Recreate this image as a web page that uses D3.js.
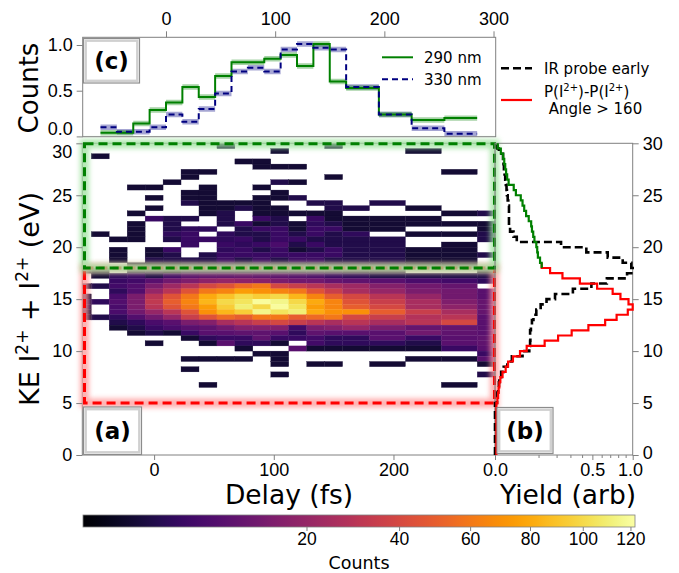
<!DOCTYPE html>
<html>
<head>
<meta charset="utf-8">
<script src="https://d3js.org/d3.v7.min.js"></script>
<style>
  body { margin: 0; background: #fff; }
  svg { display: block; font-family: "DejaVu Sans", sans-serif; }
  .axis path, .axis line { stroke: #808080; }
  .axis text { fill: #000; }
</style>
</head>
<body>
<svg id="fig" width="679" height="573"></svg>
<script>
// ---- data ----
// delay bin centres (fs) of the 2D histogram
const delays = [-60, -45, -30, -15, 0, 15, 30, 45, 60, 75, 90, 105, 120, 135, 150, 165, 195, 225, 255, 285];

// counts per 0.5 eV row, first row is 29.5-30 eV, going down to 5-5.5 eV
const counts = [
  [0,0,0,0,0,0,0,0,1,0,0,0,0,0,1,0,0,0,0,0],
  [0,0,0,0,0,0,0,0,0,0,0,1,0,0,0,0,0,1,0,0],
  [0,1,0,0,0,0,0,0,0,0,0,0,0,0,0,0,0,0,0,0],
  [0,0,0,0,0,0,0,0,0,1,1,0,0,0,0,0,0,0,0,0],
  [0,0,0,0,0,0,0,0,0,0,1,1,1,0,0,0,0,0,0,0],
  [0,0,0,0,0,0,1,1,0,0,0,0,0,0,0,0,0,0,1,0],
  [0,0,0,0,0,0,1,0,0,0,0,0,0,0,1,0,0,0,0,0],
  [0,0,0,0,0,1,0,0,0,0,0,2,1,0,0,0,0,0,0,0],
  [0,0,0,1,1,0,0,1,0,0,1,0,0,0,0,0,0,0,0,0],
  [0,0,0,0,0,0,1,1,0,0,0,1,0,0,0,0,0,0,0,0],
  [0,0,0,0,1,0,1,1,0,0,1,1,2,0,0,0,0,0,0,0],
  [0,0,0,0,0,0,2,1,1,1,1,0,0,2,2,0,2,0,0,0],
  [0,0,0,0,1,0,0,1,1,2,1,1,0,0,2,2,0,1,0,0],
  [0,0,0,1,0,0,0,1,2,0,1,1,1,1,1,0,0,0,1,2],
  [0,0,0,0,4,2,2,0,2,0,4,2,0,4,1,1,1,1,0,0],
  [0,0,0,1,0,2,0,0,2,4,1,2,1,3,2,1,1,1,1,1],
  [0,0,0,1,0,2,3,3,0,2,4,4,1,4,4,1,1,0,0,1],
  [0,1,0,1,0,3,4,0,3,2,2,4,2,4,2,3,0,1,1,2],
  [0,0,1,1,0,2,4,4,3,4,2,4,4,2,2,2,2,0,0,2],
  [0,0,0,0,0,0,4,0,4,3,4,6,2,4,2,2,2,0,1,0],
  [0,0,1,0,1,4,0,0,3,4,2,4,1,2,4,2,2,1,1,0],
  [0,0,1,0,1,2,0,2,4,4,4,4,4,4,4,2,2,1,1,2],
  [0,0,1,0,2,2,2,2,4,2,4,2,4,4,2,2,2,1,1,0],
  [0,0,0,1,1,1,2,2,3,2,3,2,2,2,2,2,2,1,1,0],
  [1,1,0,2,3,1,4,4,4,3,4,3,3,4,3,2,2,0,0,1],
  [0,1,3,4,2,5,8,9,9,10,9,8,7,6,4,3,2,2,2,2],
  [0,0,4,5,8,12,15,18,20,18,17,14,12,12,10,9,8,6,5,3],
  [1,2,5,7,14,22,30,40,45,55,60,40,35,30,25,22,16,12,10,0],
  [0,0,3,7,20,30,45,60,65,75,70,65,60,45,35,25,20,14,12,8],
  [1,0,6,14,30,45,60,80,90,100,95,100,85,65,50,40,30,20,12,8],
  [2,3,7,14,32,50,65,85,100,105,120,115,100,80,65,45,35,25,15,10],
  [2,0,6,14,30,45,60,75,95,110,100,120,105,75,65,50,40,25,18,10],
  [1,0,6,12,20,30,45,70,85,95,115,105,110,80,70,70,50,35,25,10],
  [1,2,3,7,12,20,35,45,55,50,60,60,50,55,60,40,35,28,30,8],
  [0,0,2,3,6,8,14,16,25,30,35,40,35,30,25,30,25,30,40,8],
  [0,0,1,2,4,6,8,9,12,16,16,16,5,14,16,20,14,10,10,8],
  [0,0,0,1,2,1,4,8,8,9,9,8,3,9,8,8,8,12,9,8],
  [0,0,0,0,0,0,1,3,4,4,9,4,4,5,3,3,8,4,8,9],
  [0,0,0,0,1,0,0,1,8,3,3,1,0,5,3,3,3,2,8,9],
  [0,0,0,0,0,0,0,0,0,1,0,0,8,1,1,1,1,1,4,8],
  [0,0,0,0,0,0,0,0,0,0,1,1,0,0,0,0,0,0,0,4],
  [0,0,0,0,0,0,1,1,1,1,0,1,0,0,0,0,0,1,1,8],
  [0,0,0,0,0,0,0,0,0,0,0,1,0,1,1,0,1,0,0,1],
  [0,0,0,0,0,0,1,0,0,0,0,0,0,0,0,0,0,0,0,0],
  [0,0,0,0,0,0,0,0,0,0,0,1,0,0,0,0,0,0,0,2],
  [0,0,0,0,0,0,0,0,0,0,0,0,0,0,0,0,0,0,0,0],
  [0,0,0,0,0,0,0,1,0,0,0,0,0,0,0,0,0,0,1,0]
];

// panel (c): normalised counts vs delay
const counts290 = [0.04, 0.04, 0.14, 0.29, 0.37, 0.54, 0.43, 0.66, 0.81, 0.81, 0.85, 0.89, 0.77, 1.01, 0.60, 0.53, 0.24, 0.18, 0.20, 0.20];
const counts330 = [0.10, 0.05, 0.05, 0.10, 0.24, 0.16, 0.30, 0.47, 0.71, 0.75, 0.71, 0.95, 1.01, 0.97, 0.95, 0.54, 0.24, 0.09, 0.03, 0.03];
const bandHalf = 0.03;

// panel (b): yield per 0.5 eV bin, from 0-0.5 eV up to 29.5-30 eV
const irEarly = [
  0,0,0,0,0,0,0,0,0,0,
  0.0002,0.0003,0.0005,0.0008,0.001,0.002,0.004,0.008,0.015,0.04,
  0.062,0.065,0.066,0.065,0.068,0.072,0.078,0.09,0.11,0.14,
  0.19,0.32,0.49,0.66,0.92,1.0,0.98,0.86,0.67,0.44,
  0.23,0.025,0.018,0.012,0.0103,0.0103,0.0103,0.0103,0.0093,0.0085,
  0.0075,0.007,0.0062,0.0055,0.0048,0.0042,0.0038,0.0034,0.0008,0.0003
];
const angleDiff = [
  0.0001,0.0001,0.0001,0.0001,0.0001,0.0001,0.0001,0.0001,0.0001,0.0001,
  0.0003,0.0005,0.0007,0.001,0.0015,0.003,0.006,0.009,0.017,0.033,
  0.053,0.13,0.21,0.31,0.46,0.64,0.78,0.93,1.0,0.94,
  0.83,0.73,0.55,0.38,0.24,0.16,0.115,0.107,0.097,0.094,
  0.09,0.082,0.077,0.072,0.069,0.06,0.051,0.045,0.04,0.035,
  0.023,0.0185,0.0098,0.0078,0.0065,0.0055,0.0045,0.0035,0.0018,0.0004
];

const delayTicks = [0, 100, 200];
const topDelayTicks = [0, 100, 200, 300];
const keTicks = [0, 5, 10, 15, 20, 25, 30];
const countTicks = [0, 0.5, 1.0];
const yieldTicks = [0, 0.5, 1.0];
const yieldMinor = [0.1, 0.2, 0.3, 0.4, 0.6, 0.7, 0.8, 0.9];
const cbarTicks = [20, 40, 60, 80, 100, 120];

// ---- layout ----
const svg = d3.select("#fig");
const defs = svg.append("defs");

const xMain = d3.scaleLinear().domain([-60, 285]).range([82.3, 495.2]);
const yKE = d3.scaleLinear().domain([0, 30]).range([455, 143.3]);
const xTop = d3.scaleLinear().domain([-76.3, 302]).range([82.7, 495.7]);
const yTop = d3.scaleLinear().domain([0, 1]).range([136.4, 45]);
const xYield = d3.scaleSqrt().domain([0, 1]).range([495, 632.7]);
const cNorm = d3.scaleSqrt().domain([0, 122]).range([0, 1]);
const xCbar = d3.scaleSqrt().domain([0, 122]).range([83, 635]);

defs.append("clipPath").attr("id", "clipMain")
  .append("rect").attr("x", 82.3).attr("y", 143.3).attr("width", 495.2 - 82.3).attr("height", 455 - 143.3);
defs.append("clipPath").attr("id", "clipTop")
  .append("rect").attr("x", 82.7).attr("y", 37.3).attr("width", 495.7 - 82.7).attr("height", 136.7 - 37.3);

const glow = defs.append("filter").attr("id", "glow")
  .attr("x", "-10%").attr("y", "-10%").attr("width", "120%").attr("height", "120%");
glow.append("feGaussianBlur").attr("stdDeviation", 2.5);

// ---- panel (a): heatmap ----
const edges = delays.map((d, i) => i === 0 ? d - (delays[1] - delays[0]) / 2 : (delays[i - 1] + d) / 2);
edges.push(delays[delays.length - 1] + (delays[delays.length - 1] - delays[delays.length - 2]) / 2);

const cells = [];
counts.forEach((row, r) => {
  row.forEach((v, c) => {
    if (v > 0) cells.push({ r, c, v });
  });
});

const gMain = svg.append("g").attr("clip-path", "url(#clipMain)");
gMain.selectAll("rect.cell")
  .data(cells)
  .join("rect")
  .attr("class", "cell")
  .attr("x", d => xMain(edges[d.c]))
  .attr("width", d => xMain(edges[d.c + 1]) - xMain(edges[d.c]))
  .attr("y", d => yKE(30 - 0.5 * d.r))
  .attr("height", d => yKE(30 - 0.5 * (d.r + 1)) - yKE(30 - 0.5 * d.r))
  .attr("fill", d => d3.interpolateInferno(Math.min(1, cNorm(d.v))))
  .attr("stroke", d => d3.interpolateInferno(Math.min(1, cNorm(d.v))))
  .attr("stroke-width", 0.3);

// frame of main axes
svg.append("rect")
  .attr("x", 82.3).attr("y", 143.3)
  .attr("width", 495.2 - 82.3).attr("height", 455 - 143.3)
  .attr("fill", "none").attr("stroke", "#808080").attr("stroke-width", 1);

// highlighted regions
function glowBox(x0, x1, e0, e1, col, light) {
  const g = svg.append("g");
  g.append("rect")
    .attr("x", x0).attr("y", yKE(e1)).attr("width", x1 - x0).attr("height", yKE(e0) - yKE(e1))
    .attr("fill", "none").attr("stroke", light).attr("stroke-width", 9)
    .attr("opacity", 0.8).attr("filter", "url(#glow)");
  g.append("rect")
    .attr("x", x0).attr("y", yKE(e1)).attr("width", x1 - x0).attr("height", yKE(e0) - yKE(e1))
    .attr("fill", "none").attr("stroke", col).attr("stroke-width", 3)
    .attr("stroke-dasharray", "9,5");
}
glowBox(84.5, 494.5, 5, 18, "#ff0000", "#ff9a9a");
glowBox(84.5, 494.5, 18, 29.95, "#008000", "#9ee39e");

// axes of main panel
const axMainX = svg.append("g").attr("class", "axis")
  .attr("transform", "translate(0,455)")
  .call(d3.axisBottom(xMain).tickValues(delayTicks).tickSize(5).tickPadding(3).tickFormat(d3.format("d")));
axMainX.select(".domain").remove();
axMainX.selectAll("text").attr("font-size", 18);

const axMainY = svg.append("g").attr("class", "axis")
  .attr("transform", "translate(82.3,0)")
  .call(d3.axisLeft(yKE).tickValues(keTicks).tickSize(6).tickPadding(4).tickFormat(d3.format("d")));
axMainY.select(".domain").remove();
axMainY.selectAll("text").attr("font-size", 18)
  .filter(d => d === 30).attr("dy", "0.8em");

svg.append("text")
  .attr("transform", "translate(39,299) rotate(-90)")
  .attr("text-anchor", "middle").attr("font-size", 27)
  .html('KE I<tspan dy="-11" font-size="17">2+</tspan><tspan dy="11"> + I</tspan><tspan dy="-11" font-size="17">2+</tspan><tspan dy="11"> (eV)</tspan>');

svg.append("text")
  .attr("x", 289).attr("y", 503.5)
  .attr("text-anchor", "middle").attr("font-size", 26.5)
  .text("Delay (fs)");

// ---- panel (b): yields ----
svg.append("rect")
  .attr("x", 495).attr("y", 143.3).attr("width", 632.7 - 495).attr("height", 455 - 143.3)
  .attr("fill", "none").attr("stroke", "#808080").attr("stroke-width", 1);

function stepPoints(vals, i0, i1) {
  const pts = [];
  for (let i = i0; i <= i1; i++) {
    pts.push([vals[i], 0.5 * i]);
    pts.push([vals[i], 0.5 * i + 0.5]);
  }
  return pts;
}
const yLine = d3.line().x(d => xYield(d[0])).y(d => yKE(d[1]));

svg.append("path")
  .attr("d", yLine(stepPoints(irEarly, 0, 59)))
  .attr("fill", "none").attr("stroke", "#000").attr("stroke-width", 2.6)
  .attr("stroke-dasharray", "8,4");
svg.append("path")
  .attr("d", yLine(stepPoints(angleDiff, 0, 36)))
  .attr("fill", "none").attr("stroke", "#ff0000").attr("stroke-width", 2.2);
svg.append("path")
  .attr("d", yLine(stepPoints(angleDiff, 36, 59)))
  .attr("fill", "none").attr("stroke", "#008000").attr("stroke-width", 2.2);

const axYieldX = svg.append("g").attr("class", "axis")
  .attr("transform", "translate(0,455)")
  .call(d3.axisBottom(xYield).tickValues(yieldTicks).tickSize(5).tickPadding(3).tickFormat(d3.format(".1f")));
axYieldX.select(".domain").remove();
axYieldX.selectAll("text").attr("font-size", 18)
  .filter(d => d === 1).attr("dx", "-0.15em");
svg.append("g").attr("class", "axis")
  .attr("transform", "translate(0,455)")
  .call(d3.axisBottom(xYield).tickValues(yieldMinor).tickSize(3).tickFormat(""))
  .select(".domain").remove();

const axYieldY = svg.append("g").attr("class", "axis")
  .attr("transform", "translate(632.7,0)")
  .call(d3.axisRight(yKE).tickValues(keTicks).tickSize(6).tickPadding(4).tickFormat(d3.format("d")));
axYieldY.select(".domain").remove();
axYieldY.selectAll("text").attr("font-size", 18)
  .filter(d => d === 0).attr("dy", "0.2em");

svg.append("text")
  .attr("x", 568).attr("y", 503.5)
  .attr("text-anchor", "middle").attr("font-size", 26.5)
  .text("Yield (arb)");

// ---- panel (c): delay traces ----
const gTop = svg.append("g");
const topArea = d3.area().curve(d3.curveStepAfter)
  .x((d, i) => xTop(delays[i]))
  .y0(d => yTop(d - bandHalf)).y1(d => yTop(d + bandHalf));
const topLine = d3.line().curve(d3.curveStepAfter)
  .x((d, i) => xTop(delays[i])).y(d => yTop(d));

const gTopClip = gTop.append("g").attr("clip-path", "url(#clipTop)");
gTopClip.append("path").attr("d", topArea(counts330)).attr("fill", "#000080").attr("opacity", 0.35);
gTopClip.append("path").attr("d", topArea(counts290)).attr("fill", "#008000").attr("opacity", 0.35);
gTopClip.append("path").attr("d", topLine(counts290))
  .attr("fill", "none").attr("stroke", "#008000").attr("stroke-width", 2);
gTopClip.append("path").attr("d", topLine(counts330))
  .attr("fill", "none").attr("stroke", "#000080").attr("stroke-width", 2).attr("stroke-dasharray", "6,4");

gTop.append("rect")
  .attr("x", 82.7).attr("y", 37.3).attr("width", 495.7 - 82.7).attr("height", 136.7 - 37.3)
  .attr("fill", "none").attr("stroke", "#808080").attr("stroke-width", 1);

const axTopX = gTop.append("g").attr("class", "axis")
  .attr("transform", "translate(0,37.3)")
  .call(d3.axisTop(xTop).tickValues(topDelayTicks).tickSize(6).tickPadding(6).tickFormat(d3.format("d")));
axTopX.select(".domain").remove();
axTopX.selectAll("text").attr("font-size", 18);

const axTopY = gTop.append("g").attr("class", "axis")
  .attr("transform", "translate(82.7,0)")
  .call(d3.axisLeft(yTop).tickValues(countTicks).tickSize(6).tickPadding(4).tickFormat(d3.format(".1f")));
axTopY.select(".domain").remove();
axTopY.selectAll("text").attr("font-size", 18)
  .filter(d => d === 0).attr("dy", "-0.12em");

svg.append("text")
  .attr("transform", "translate(38,88) rotate(-90)")
  .attr("text-anchor", "middle").attr("font-size", 26)
  .text("Counts");

// legend inside (c)
const legTop = svg.append("g");
legTop.append("line").attr("x1", 382).attr("x2", 413).attr("y1", 57.3).attr("y2", 57.3)
  .attr("stroke", "#008000").attr("stroke-width", 2);
legTop.append("line").attr("x1", 382).attr("x2", 413).attr("y1", 79.3).attr("y2", 79.3)
  .attr("stroke", "#000080").attr("stroke-width", 2).attr("stroke-dasharray", "6,4");
legTop.append("text").attr("x", 424).attr("y", 62.5).attr("font-size", 15).text("290 nm");
legTop.append("text").attr("x", 424).attr("y", 84.5).attr("font-size", 15).text("330 nm");

// legend outside, for (b)
const legB = svg.append("g");
legB.append("line").attr("x1", 501).attr("x2", 532).attr("y1", 68.3).attr("y2", 68.3)
  .attr("stroke", "#000").attr("stroke-width", 2.6).attr("stroke-dasharray", "8,4");
legB.append("text").attr("x", 544).attr("y", 73.5).attr("font-size", 15).text("IR probe early");
legB.append("line").attr("x1", 501).attr("x2", 532).attr("y1", 100).attr("y2", 100)
  .attr("stroke", "#ff0000").attr("stroke-width", 2.2);
legB.append("text").attr("x", 544).attr("y", 97).attr("font-size", 15)
  .html('P(I<tspan dy="-6" font-size="10">2+</tspan><tspan dy="6">)-P(I</tspan><tspan dy="-6" font-size="10">2+</tspan><tspan dy="6">)</tspan>');
legB.append("text").attr("x", 544).attr("y", 113.5).attr("font-size", 15).attr("xml:space", "preserve").text(" Angle > 160");

// ---- panel labels ----
function panelLabel(x, y, w, h, txt) {
  const g = svg.append("g");
  g.append("rect").attr("x", x).attr("y", y).attr("width", w).attr("height", h)
    .attr("fill", "#fff").attr("stroke", "#8c8c8c").attr("stroke-width", 1.2);
  g.append("rect").attr("x", x + 2.2).attr("y", y + 2.2).attr("width", w - 4.4).attr("height", h - 4.4)
    .attr("fill", "#fff").attr("stroke", "#d0d0d0").attr("stroke-width", 2.4);
  g.append("text").attr("x", x + w / 2).attr("y", y + h / 2 + 8)
    .attr("text-anchor", "middle").attr("font-size", 23).attr("font-weight", "bold").text(txt);
}
panelLabel(83.5, 38.5, 56, 44.5, "(c)");
panelLabel(83.5, 407, 58, 47.5, "(a)");
panelLabel(497, 407.5, 56, 46, "(b)");

// ---- colourbar ----
const grad = defs.append("linearGradient").attr("id", "cbarGrad");
d3.range(0, 1.0001, 0.02).forEach(t => {
  grad.append("stop").attr("offset", (t * 100) + "%").attr("stop-color", d3.interpolateInferno(t));
});
svg.append("rect")
  .attr("x", 83).attr("y", 515).attr("width", 635 - 83).attr("height", 12)
  .attr("fill", "url(#cbarGrad)").attr("stroke", "#808080").attr("stroke-width", 0.8);
const axC = svg.append("g").attr("class", "axis")
  .attr("transform", "translate(0,527)")
  .call(d3.axisBottom(xCbar).tickValues(cbarTicks).tickSize(4).tickPadding(2).tickFormat(d3.format("d")));
axC.select(".domain").remove();
axC.selectAll("text").attr("font-size", 17.5);
svg.append("text").attr("x", 359).attr("y", 569)
  .attr("text-anchor", "middle").attr("font-size", 17.5).text("Counts");
</script>
</body>
</html>
